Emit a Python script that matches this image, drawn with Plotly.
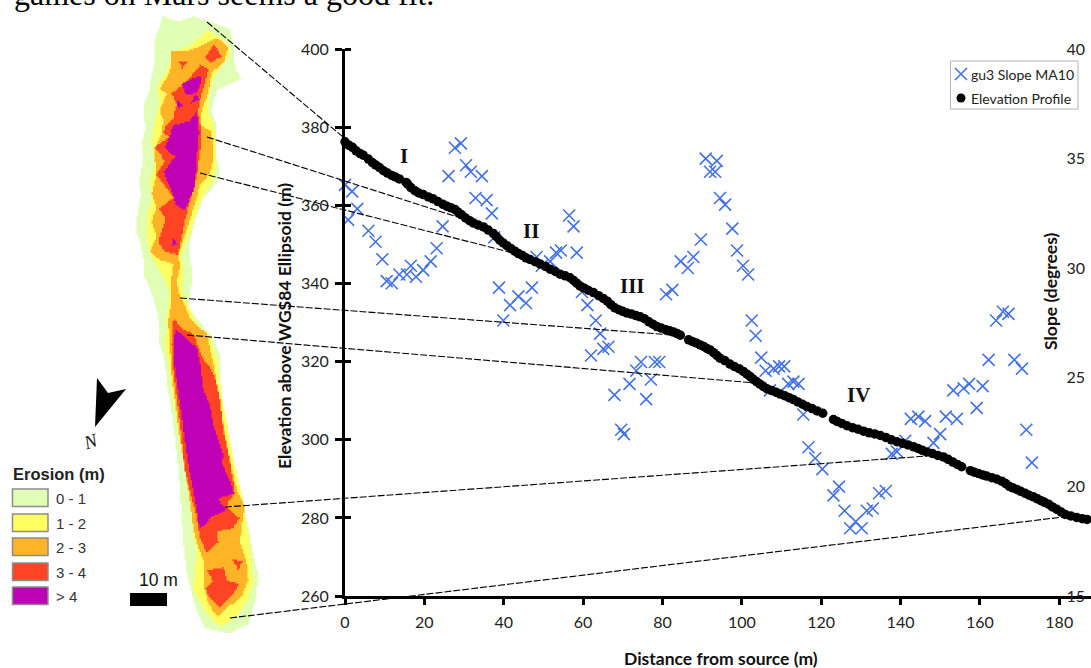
import plotly.graph_objects as go

# ---------- chart data ----------
elev_x = [0,1,1.9,2.8,3.8,4.6,5.9,6.9,7.7,8.7,9.7,10.7,11.8,12.7,13.7,15.4,15.8,16.6,17.6,18.6,19.7,21,22.2,23.4,24.7,25.7,26.7,27.7,28.5,29.4,30.4,31.4,32.4,33.6,34.9,36.1,37.4,38.2,39,39.9,40.8,41.8,42.8,43.7,44.7,45.6,46.6,47.9,49.2,50.5,51.7,53,54.2,55.5,56.7,57.6,58.4,59.2,60.2,61.3,62.6,63.9,65.1,66.1,67,68,69,70,71,72.2,73.3,74.4,75.5,76.6,77.6,78.6,79.7,80.8,81.8,82.8,83.7,84.5,86.6,87.5,88.5,89.5,90.4,91.2,92,92.9,93.7,94.5,95.7,97,98.1,99.3,100.4,101.3,102.1,102.9,103.7,104.5,105.4,106.3,107.5,108.6,109.7,110.8,111.9,113,114.1,115.3,116.4,117.7,119,120.4,123.1,124,125.2,126.5,127.9,129.3,130.7,132.1,133.5,134.9,136.3,137.7,139.1,140.5,141.9,143.3,144.4,145.5,146.6,148,149.4,150.8,152,153.2,154.3,155.4,157.6,158.6,159.6,160.7,161.7,163,164.3,165.5,166.5,167.4,168.3,169.3,170.3,171.4,172.4,173.5,174.5,175.4,176.3,177.3,178.3,179.4,180.5,181.5,182.9,184.4,185.8,187]
elev_y = [376.3,375.4,374.9,374.0,373.3,372.9,371.9,371.0,370.4,369.7,368.9,368.3,367.7,367.3,366.8,365.9,365.5,364.6,363.8,363.2,362.8,362.2,361.7,361.0,360.3,359.8,359.4,359.0,358.3,357.6,356.8,356.1,355.5,355.0,354.5,353.7,352.8,352,351.1,350.4,349.7,349,348.3,347.7,347.2,346.6,346.2,345.6,345,344.4,343.7,343.1,342.4,342,341.5,340.8,340.1,339.4,338.9,338.3,337.7,336.9,336.2,335.5,334.6,333.8,333.3,332.9,332.5,332.2,331.8,331.5,331,330.2,329.6,329,328.6,328.2,327.9,327.6,327.2,326.8,325.6,325.2,324.8,324.3,323.9,323.4,323,322.3,321.6,320.9,320.3,319.4,318.8,318.2,317.5,316.8,316.2,315.5,314.9,314.3,313.7,313.1,312.6,312.2,311.7,311.3,310.8,310.3,309.7,309.1,308.5,308,307.4,306.8,305.2,304.7,304.2,303.6,303.1,302.7,302.2,301.8,301.5,301.1,300.6,300,299.5,299.1,298.7,298.2,297.8,297.3,296.9,296.5,296,295.6,295,294.3,293.7,293.1,292.1,291.7,291.4,291,290.7,290.3,289.9,289.4,288.8,288.1,287.7,287.3,286.8,286.3,285.8,285.4,284.9,284.4,284,283.5,282.8,282.2,281.5,280.9,280.5,280.1,279.8,279.6]

slope_x = [0,0.8,1.8,3.1,5.9,7.7,9.4,10.5,11.8,13.7,15.6,16.6,17.9,19.7,21.6,23.1,24.6,26.1,27.7,29.2,30.5,31.7,32.9,34.5,35.7,37,37.6,38.8,39.9,41.6,43.7,45.6,47.1,48.3,49.6,51.7,53.2,54.4,56.5,57.6,58.4,59.7,61.1,62,63.2,64.3,65.1,66.4,67.9,69.6,70.3,71.7,73.4,74.6,75.9,77.1,78.1,79.2,80.9,82.5,84.6,86.4,87.8,89.7,90.9,92,93.3,93.7,94.5,95.8,97.6,98.8,100.3,101.6,102.5,103.5,104.9,106,107.1,108,109.4,110.7,111.7,113,114.3,115.5,116.8,118.5,120.3,123.1,124.5,125.9,127.3,128.7,130.2,131.5,133,134.6,136.3,137.8,139.1,141.2,142.6,144.5,146.2,148.3,150,151.4,153.3,154.2,155.9,157.3,159.2,160.7,162.2,164.1,165.8,167.2,168.7,170.6,171.7,173.1]
slope_y = [33.8,32.2,33.5,32.7,31.7,31.2,30.4,29.4,29.3,29.7,29.7,30.1,29.6,29.9,30.3,30.9,31.9,34.2,35.5,35.7,34.7,34.4,33.2,34.2,33.1,32.5,31.4,29.1,27.6,28.3,28.7,28.4,29.1,30.5,30.1,30.3,30.7,30.8,32.4,31.9,30.7,28.9,28.3,26,27.6,27,26.3,26.4,24.2,22.6,22.4,24.7,25.3,25.7,24,24.9,25.7,25.7,28.8,29,30.3,30,30.5,31.3,35,34.4,34.4,34.9,33.2,32.9,31.8,30.8,30.1,29.7,27.6,26.9,25.9,25.3,24.4,25.4,25.5,25.5,24.7,24.8,24.7,23.3,21.8,21.3,20.8,19.6,20,18.9,18.1,18.4,18.1,18.9,19,19.7,19.8,21.5,21.6,22.1,23.1,23.2,23,22,22.4,23.2,24.4,23.1,24.5,24.7,23.6,24.6,25.8,27.6,28,27.9,25.8,25.4,22.6,21.1]

x_ticks = [0,20,40,60,80,100,120,140,160,180]
elev_ticks = [260,280,300,320,340,360,380,400]
slope_ticks = [15,20,25,30,35,40]
section_names = ["I","II","III","IV"]
section_at = [(404,156),(531,231),(632,286),(858,395)]

legend_names = ["0 - 1","1 - 2","2 - 3","3 - 4","> 4"]
legend_cols = ["#e1ffb4","#ffff5f","#ffb428","#ff4426","#bf00b4"]
legend_tops = [489,514,538,563,587]

# ---------- erosion map outlines: page pixels x 3 (upper U is from y=0, lower L from y=330) ----------
def U(*p): return [(a/3, b/3) for a, b in p]
def L(*p): return [(a/3, 330+b/3) for a, b in p]

C0 = U((490,45),(480,80),(468,105),(462,140),(465,180),(460,210),(452,245),(447,280),(432,315),(430,350),(438,385),(425,430),(430,480),(418,540),(422,590),(412,650),(408,690),(420,730),(432,790),(432,830),(455,880),(470,930),(480,990)) \
   + L((475,30),(495,100),(500,160),(512,230),(525,330),(535,420),(545,560),(550,640),(560,730),(585,830),(615,895),(690,910),(745,880),(770,790),(775,730),(760,670),(745,590),(720,490),(700,400),(680,310),(665,200),(660,70),(630,10)) \
   + U((630,1000),(585,950),(565,920),(575,850),(575,800),(565,740),(585,660),(610,590),(650,550),(660,510),(650,470),(650,380),(635,330),(650,270),(690,250),(725,235),(705,200),(700,130),(690,85),(620,62),(585,50),(545,62),(520,60))
C1 = U((620,90),(650,110),(685,140),(690,170),(660,205),(640,240),(628,280),(625,340),(640,380),(650,430),(650,490),(640,540),(610,590),(590,640),(570,700),(545,770),(550,830),(545,870),(570,930),(600,990),(630,1010)) \
   + L((650,90),(660,170),(680,280),(705,410),(730,520),(745,620),(755,700),(760,760),(745,810),(710,860),(665,890),(640,870),(610,830),(580,780),(590,660),(580,610),(575,480),(545,360),(525,240),(510,130),(495,40)) \
   + U((500,950),(510,880),(490,830),(450,760),(440,700),(440,640),(455,600),(450,540),(465,480),(455,420),(470,340),(480,300),(470,260),(500,210),(520,155),(570,135))
C2 = U((650,115),(685,145),(672,190),(635,220),(625,280),(605,340),(605,380),(635,395),(640,480),(630,520),(600,560),(585,610),(570,660),(550,720),(535,770),(540,800),(530,850),(540,890),(560,930),(570,960),(600,985),(620,1005)) \
   + L((640,100),(660,220),(675,320),(695,420),(715,495),(735,530),(725,590),(720,640),(740,700),(745,750),(725,800),(690,830),(655,860),(625,820),(610,760),(610,690),(590,640),(580,590),(565,480),(540,330),(515,130),(508,30)) \
   + U((505,960),(515,900),(512,850),(520,790),(480,780),(450,750),(470,710),(455,660),(470,620),(455,580),(470,520),(462,450),(485,400),(490,360),(480,330),(500,280),(480,265),(510,210),(515,155),(570,150))
C3 = [U((640,135),(665,170),(635,190),(615,170)),
      U((535,185),(565,185),(550,205)),
      U((600,195),(625,210),(612,260),(600,300),(595,340),(605,400),(600,460),(590,530),(575,590),(555,660),(535,765),(500,755),(475,725),(497,650),(475,625),(520,590),(470,520),(495,480),(465,440),(510,410),(485,395),(520,350),(530,310),(515,280),(560,245)),
      U((520,960),(545,985)) + L((580,15),(610,90),(640,130),(660,210),(670,300),(690,400),(705,490),(680,530),(718,565),(700,595),(650,605),(655,640),(620,668),(600,620),(590,560),(570,480),(555,420),(540,280),(520,120),(515,40)),
      L((620,720),(670,712),(680,750),(720,765),(695,800),(660,832),(630,800),(617,775),(640,750)),
      L((698,688),(730,695),(715,718))]
C4 = [U((597,225),(605,245),(590,280),(560,285),(545,250)),
      U((585,285),(598,300),(570,310)),
      U((530,300),(550,320),(535,325)),
      U((590,335),(597,400),(590,480),(585,560),(555,630),(530,615),(515,570),(492,515),(525,470),(495,440),(520,375),(570,362)),
      U((520,710),(530,735),(518,740)),
      L((525,0),(545,15),(590,55),(600,100),(610,180),(630,230),(640,290),(670,380),(665,400),(695,470),(700,490),(650,510),(680,540),(640,560),(600,597),(585,510),(565,400),(550,290),(540,220),(520,80))]
leaders = [[(207,22),(343,137)],[(207,137),(467,220)],[(200,173),(513,253)],[(180,298),(673,335)],[(187,335),(755,383)],[(225,507),(927,456)],[(230,618),(1063,517)]]
north = [(97,378),(108,393),(126,389),(95,427)]
scale_bar = [(130,593),(167,593),(167,606),(130,606)]

def stair(poly, cell=1.5):
    """turn a polygon outline into the stepped edge of a raster of the given cell size"""
    out = []
    n = len(poly)
    for i in range(n):
        (x0, y0), (x1, y1) = poly[i], poly[(i+1) % n]
        steps = max(1, int(max(abs(x1-x0), abs(y1-y0)) / cell))
        for k in range(steps):
            xa = round((x0+(x1-x0)*k/steps)/cell)*cell
            ya = round((y0+(y1-y0)*k/steps)/cell)*cell
            xb = round((x0+(x1-x0)*(k+1)/steps)/cell)*cell
            out.append((xa, ya)); out.append((xb, ya))
    return out

def unzip(polys, close=True, rast=True):
    xs, ys = [], []
    for poly in polys:
        r = stair(poly) if rast else list(poly)
        if close:
            r = r + [r[0]]
        xs.extend(p[0] for p in r); ys.extend(p[1] for p in r)
        xs.append(None); ys.append(None)
    return xs, ys

W, H = 1091, 668
X0, X1 = 345, 1091
Y0, Y1 = 596, 49.3
SANS = "Lato"
TICK = "#222222"

fig = go.Figure()

for polys, col in zip([[C0], [C1], [C2], C3, C4], legend_cols):
    xs, ys = unzip(polys)
    fig.add_trace(go.Scatter(x=xs, y=ys, xaxis="x3", yaxis="y3", mode="lines", fill="toself",
                             fillcolor=col, line=dict(width=0, color=col), showlegend=False, hoverinfo="skip"))
for pts in (north, scale_bar):
    xs, ys = unzip([pts], rast=False)
    fig.add_trace(go.Scatter(x=xs, y=ys, xaxis="x3", yaxis="y3", mode="lines", fill="toself",
                             fillcolor="black", line=dict(width=0, color="black"), showlegend=False, hoverinfo="skip"))

SLOPE_COL = "#4472e4"
SLOPE_MARK = dict(symbol="x-thin", size=12, color=SLOPE_COL, line=dict(width=1.6, color=SLOPE_COL))
fig.add_trace(go.Scatter(x=slope_x, y=slope_y, name="gu3 Slope MA10", mode="markers", yaxis="y",
                         cliponaxis=False, marker=SLOPE_MARK, showlegend=False))
fig.add_trace(go.Scatter(x=elev_x, y=elev_y, name="Elevation Profile", mode="markers", yaxis="y2",
                         cliponaxis=False, marker=dict(symbol="circle", size=9.5, color="black"), showlegend=False))

for pts in leaders:
    xs, ys = unzip([pts], close=False, rast=False)
    fig.add_trace(go.Scatter(x=xs, y=ys, xaxis="x3", yaxis="y3", mode="lines",
                             line=dict(color="black", width=1.1, dash="7px,2px"), showlegend=False, hoverinfo="skip"))

# key in the chart's top right corner
fig.add_trace(go.Scatter(x=[961], y=[74], xaxis="x3", yaxis="y3", mode="markers", marker=SLOPE_MARK,
                         showlegend=False, hoverinfo="skip"))
fig.add_trace(go.Scatter(x=[961], y=[98], xaxis="x3", yaxis="y3", mode="markers",
                         marker=dict(symbol="circle", size=9, color="black"), showlegend=False, hoverinfo="skip"))

shapes = [dict(type="rect", xref="x3", yref="y3", x0=950.5, x1=1078, y0=61, y1=109, fillcolor="white",
               line=dict(color="#b4b4b4", width=1), layer="below")]
annos = []
annos.append(dict(xref="x3", yref="y3", x=969, y=74, text="gu3 Slope MA10", showarrow=False, xanchor="left",
                  font=dict(family=SANS, size=14, color=TICK)))
annos.append(dict(xref="x3", yref="y3", x=969, y=98, text="Elevation Profile", showarrow=False, xanchor="left",
                  font=dict(family=SANS, size=14, color=TICK)))
for top, col, nm in zip(legend_tops, legend_cols, legend_names):
    shapes.append(dict(type="rect", xref="x3", yref="y3", x0=12.5, x1=48, y0=top, y1=top+17.5,
                       fillcolor=col, line=dict(color="#8c8c8c", width=1.5)))
    annos.append(dict(xref="x3", yref="y3", x=54, y=top+9, text=nm, showarrow=False, xanchor="left",
                      font=dict(family="Liberation Sans", size=15, color="#333333")))
annos.append(dict(xref="x3", yref="y3", x=11, y=474, text="<b>Erosion (m)</b>", showarrow=False, xanchor="left",
                  font=dict(family="Liberation Sans", size=16.5, color="#222222")))
annos.append(dict(xref="x3", yref="y3", x=158, y=580, text="10 m", showarrow=False,
                  font=dict(family="Liberation Sans", size=17.5, color="#111111")))
annos.append(dict(xref="x3", yref="y3", x=90, y=441, text="<i>N</i>", showarrow=False, textangle=-18,
                  font=dict(family="Liberation Serif", size=19, color="#111111")))
annos.append(dict(xref="x3", yref="y3", x=12, y=14, text="games on Mars seems a good fit.", showarrow=False,
                  xanchor="left", yanchor="bottom", font=dict(family="Liberation Serif", size=32, color="black")))
for nm, (px, py) in zip(section_names, section_at):
    annos.append(dict(xref="x3", yref="y3", x=px, y=py, text="<b>%s</b>" % nm, showarrow=False,
                      font=dict(family="Liberation Serif", size=21, color="#111111")))
TITLE = dict(family=SANS, size=17.5, color="#111111")
annos.append(dict(xref="x3", yref="y3", x=721, y=658, text="<b>Distance from source (m)</b>", showarrow=False, font=TITLE))
annos.append(dict(xref="x3", yref="y3", x=284, y=326, text="<b>Elevation above WGS84 Ellipsoid (m)</b>", showarrow=False,
                  textangle=-90, font=TITLE))
annos.append(dict(xref="x3", yref="y3", x=1050, y=291, text="<b>Slope (degrees)</b>", showarrow=False, textangle=-90, font=TITLE))

fig.update_layout(
    width=W, height=H, margin=dict(l=0, r=0, t=0, b=0), paper_bgcolor="white", plot_bgcolor="rgba(0,0,0,0)",
    shapes=shapes, annotations=annos, showlegend=False,
    xaxis=dict(domain=[X0/W, 1], range=[0, (X1-X0)/3.968], tickvals=x_ticks, ticks="outside", ticklen=6, tickwidth=2.5,
               tickcolor="black", showline=True, linecolor="black", linewidth=3, showgrid=False, zeroline=False,
               automargin=False, ticklabelstandoff=4, tickfont=dict(family=SANS, size=16, color=TICK)),
    yaxis=dict(domain=[1-Y0/H, 1-Y1/H], range=[15, 40], tickvals=slope_ticks, side="left", anchor="free", position=1085/W,
               showgrid=False, zeroline=False, showline=False, ticks="", automargin=False,
               tickfont=dict(family=SANS, size=16, color=TICK)),
    yaxis2=dict(overlaying="y", side="left", anchor="x", range=[260, 400], tickvals=elev_ticks, ticks="outside", ticklen=7,
                tickwidth=2.5, tickcolor="black", showline=True, linecolor="black", linewidth=3, showgrid=False, zeroline=False,
                automargin=False, ticklabelstandoff=3, tickfont=dict(family=SANS, size=16, color=TICK),
                minor=dict(tick0=259.98, dtick=20, ticks="inside", ticklen=6, tickwidth=2.5, tickcolor="black")),
    xaxis3=dict(domain=[0, 1], range=[0, W], visible=False, anchor="y3", fixedrange=True),
    yaxis3=dict(domain=[0, 1], range=[H, 0], visible=False, anchor="x3", fixedrange=True),
)
fig.write_html("out.html", config={"displayModeBar": False},
               post_script="document.body.style.margin='0';document.body.style.overflow='hidden';")
